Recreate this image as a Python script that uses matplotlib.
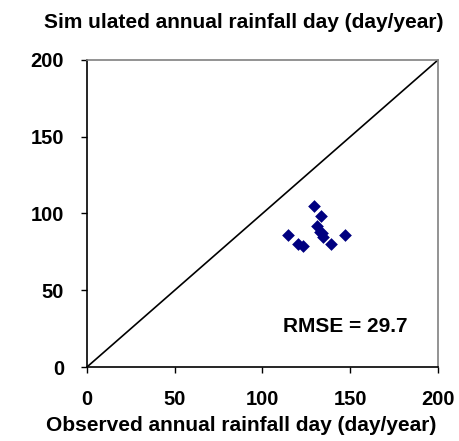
import matplotlib
matplotlib.use("Agg")
import matplotlib.pyplot as plt

# observed vs simulated annual rainfall days
observed = [129.5, 133.2, 130.9, 133.8, 132.8, 134.7, 114.7, 120.4, 123.2, 139.0, 147.0]
simulated = [105.1, 98.6, 91.7, 87.4, 88.1, 84.9, 86.2, 80.3, 78.5, 79.8, 86.2]
ticks = [0, 50, 100, 150, 200]
rmse_label = "RMSE = 29.7"

plt.rcParams['font.family'] = ['Liberation Sans', 'DejaVu Sans']
plt.rcParams['font.weight'] = 'bold'

fig = plt.figure(figsize=(4.59, 4.41), dpi=100)
ax = fig.add_axes([0.1895, 0.1678, 0.9542 - 0.1895, 0.864 - 0.1678])

ax.plot([0, 200], [0, 200], color='black', lw=1.2)
ax.scatter(observed, simulated, marker='D', s=42, color='#000080', zorder=3, linewidths=0)

ax.set_xlim(0, 200)
ax.set_ylim(0, 200)
ax.set_xticks(ticks)
ax.set_yticks(ticks)
ax.tick_params(direction='out', length=4.5, width=1, labelsize=14.5, pad=12)
for lab in ax.get_xticklabels() + ax.get_yticklabels():
    lab.set_fontweight('bold')

for s in ['left', 'bottom']:
    ax.spines[s].set_color('black')
    ax.spines[s].set_linewidth(1.2)
for s in ['top', 'right']:
    ax.spines[s].set_color('#808080')
    ax.spines[s].set_linewidth(1.2)

ax.text(111.5, 26.7, rmse_label, fontsize=15, fontweight='bold', va='center')

fig.text(0.53, 0.95, "Sim ulated annual rainfall day (day/year)", ha='center', va='center',
         fontsize=15, fontweight='bold')
fig.text(0.525, 0.036, "Observed annual rainfall day (day/year)", ha='center', va='center',
         fontsize=15, fontweight='bold')

fig.savefig("out.png", dpi=100)
